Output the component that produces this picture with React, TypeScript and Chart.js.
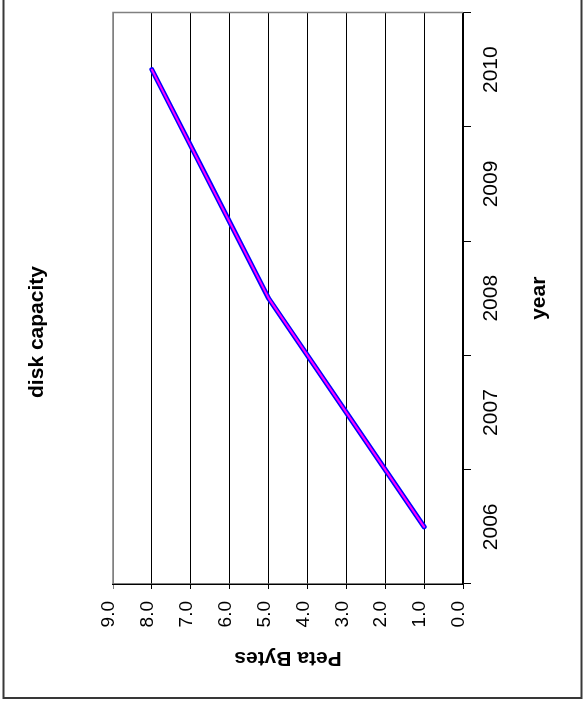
import React, { useEffect, useRef } from "react";
import { Chart, registerables } from "chart.js";

Chart.register(...registerables);

const years = ["2006", "2007", "2008", "2009", "2010"];
const capacity = [1.0, 3.0, 5.0, 6.5, 8.0];
const yMin = 0;
const yMax = 9;
const chartTitle = "disk capacity";
const xTitle = "year";
const yTitle = "Peta Bytes";

const FONT = "'Liberation Sans', Arial, sans-serif";
const W = 707;
const H = 583;

const framePlugin = {
  id: "framePlugin",
  beforeDatasetsDraw(chart: any) {
    const { ctx, chartArea } = chart;
    ctx.save();
    ctx.strokeStyle = "#808080";
    ctx.lineWidth = 1.5;
    ctx.beginPath();
    ctx.moveTo(chartArea.left, chartArea.top);
    ctx.lineTo(chartArea.right, chartArea.top);
    ctx.lineTo(chartArea.right, chartArea.bottom);
    ctx.stroke();
    ctx.restore();
  },
  afterDraw(chart: any) {
    const { ctx } = chart;
    ctx.save();
    ctx.strokeStyle = "#383838";
    ctx.lineWidth = 2;
    ctx.strokeRect(9, 3.5, W + 10, 578);
    ctx.fillStyle = "#000";
    ctx.font = `bold 21px ${FONT}`;
    ctx.textAlign = "center";
    ctx.textBaseline = "middle";
    ctx.fillText(chartTitle, 375, 37);
    ctx.restore();
  },
};

export default function App() {
  const ref = useRef<HTMLCanvasElement | null>(null);

  useEffect(() => {
    if (!ref.current) return;
    const chart = new Chart(ref.current, {
      type: "line",
      data: {
        labels: years,
        datasets: [
          {
            data: capacity,
            borderColor: "#FF00FF",
            borderWidth: 2,
            pointRadius: 0,
            borderCapStyle: "round",
            borderJoinStyle: "round",
            tension: 0,
          },
          {
            data: capacity,
            borderColor: "#0000FF",
            borderWidth: 5,
            pointRadius: 0,
            borderCapStyle: "round",
            borderJoinStyle: "round",
            tension: 0,
          },
        ],
      },
      plugins: [framePlugin],
      options: {
        animation: false,
        responsive: false,
        devicePixelRatio: 1,
        layout: { padding: { top: 113, right: 12.5, left: 0, bottom: 0 } },
        plugins: {
          legend: { display: false },
          title: { display: false },
          tooltip: { enabled: false },
        },
        scales: {
          x: {
            type: "category",
            offset: true,
            grid: {
              display: true,
              drawOnChartArea: false,
              drawTicks: true,
              tickLength: 8,
              offset: true,
              color: "#000",
            },
            border: { display: true, color: "#000", width: 1.5 },
            ticks: {
              color: "#000",
              font: { family: FONT, size: 21 },
              padding: 8,
              maxRotation: 0,
              minRotation: 0,
            },
            title: {
              display: true,
              text: xTitle,
              color: "#000",
              font: { family: FONT, size: 21, weight: "bold" },
              padding: { top: 0, bottom: 31 },
            },
            afterFit(scale: any) {
              scale.height = 120;
            },
          },
          y: {
            type: "linear",
            min: yMin,
            max: yMax,
            grid: {
              display: true,
              drawOnChartArea: true,
              drawTicks: true,
              tickLength: 5,
              color: (c: any) => (c.tick && c.tick.value === yMax ? "#808080" : "#000"),
            },
            border: { display: true, color: "#000", width: 1.5 },
            ticks: {
              stepSize: 1,
              color: "#000",
              font: { family: FONT, size: 19 },
              padding: 12,
              labelOffset: -4,
              callback: (v: any) => Number(v).toFixed(1),
            },
            title: {
              display: true,
              text: yTitle,
              color: "#000",
              font: { family: FONT, size: 21, weight: "bold" },
              padding: { top: 37, bottom: 0 },
            },
            afterFit(scale: any) {
              scale.width = 123;
            },
          },
        },
      } as any,
    });
    return () => chart.destroy();
  }, []);

  return (
    <div
      style={{
        position: "fixed",
        left: 0,
        top: 0,
        width: 583,
        height: 707,
        overflow: "hidden",
        background: "#fff",
      }}
    >
      <div
        style={{
          position: "absolute",
          left: (583 - W) / 2,
          top: (707 - H) / 2,
          width: W,
          height: H,
          transform: "rotate(-90deg)",
          transformOrigin: "50% 50%",
        }}
      >
        <canvas ref={ref} width={W} height={H} style={{ width: W, height: H, display: "block" }} />
      </div>
    </div>
  );
}
